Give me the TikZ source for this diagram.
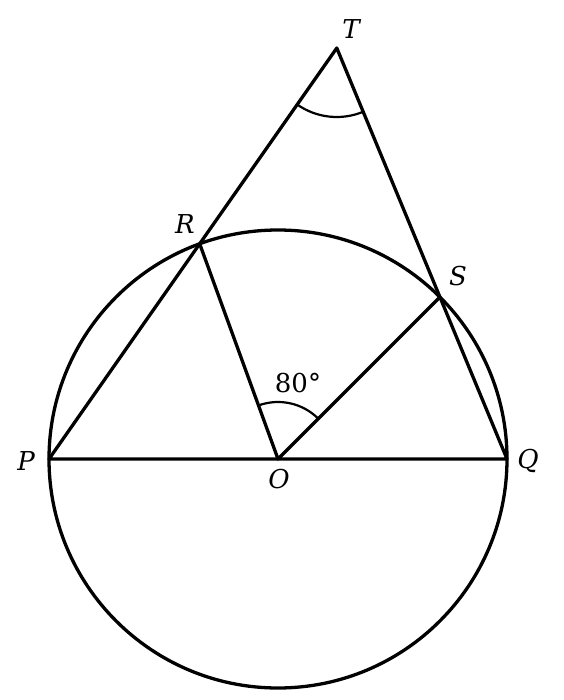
\documentclass[tikz,border=0pt]{standalone}
\usepackage{fontspec}
\setmainfont{DejaVu Serif}
\usetikzlibrary{angles,calc}
\begin{document}
\begin{tikzpicture}[x=1pt,y=-1pt,
  geo/.style={line width=3.3pt,line join=round,line cap=round},
  marc/.style={draw,line width=2.2pt},
  lab/.style={font=\fontsize{26}{30}\selectfont\itshape,inner sep=0pt},
  num/.style={font=\fontsize{26}{30}\selectfont,inner sep=0pt}]
\useasboundingbox (0,0) rectangle (563,700);
\coordinate (O) at (278,459);
\coordinate (P) at (49,459);
\coordinate (Q) at (507,459);
\coordinate (R) at ($(O)+(110:229pt)$);
\coordinate (S) at ($(O)+(45:229pt)$);
\coordinate (T) at (intersection of P--R and Q--S);
\draw[geo] (O) circle[radius=229pt];
\draw[geo] (P) -- (T) -- (Q) -- cycle;
\draw[geo] (R) -- (O) -- (S);
\pic[marc,angle radius=69pt] {angle=P--T--Q};
\pic[marc,angle radius=57pt] {angle=S--O--R};
\node[lab] (lT) at (351,29) {T};
\node[lab] (lR) at (185,224) {R};
\node[lab] (lS) at (458,276) {S};
\node[lab] (lP) at (26,461) {P};
\node[lab] (lQ) at (528,461) {Q};
\node[lab] (lO) at (279,479) {O};
\node[num] (l80) at (298,383) {80°};
\end{tikzpicture}
\end{document}
